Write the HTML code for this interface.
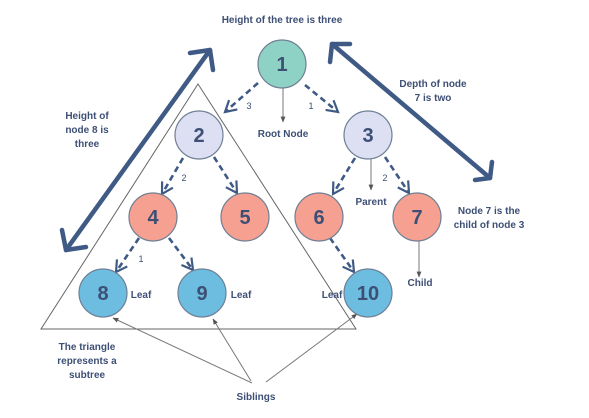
<!DOCTYPE html>
<html><head><meta charset="utf-8"><style>
html,body{margin:0;padding:0;background:#fff;}
svg{display:block;}
text{font-family:"Liberation Sans",sans-serif;fill:#3d4f75;font-weight:bold;}
</style></head><body>
<svg width="589" height="418" viewBox="0 0 589 418" xmlns="http://www.w3.org/2000/svg">
<defs>
<marker id="chev" viewBox="0 0 10 10" refX="8" refY="5" markerWidth="6" markerHeight="6" orient="auto" markerUnits="strokeWidth">
<path d="M1,1 L8,5 L1,9" fill="none" stroke="#3f5a85" stroke-width="1.4"/></marker>
<marker id="tri" viewBox="0 0 10 10" refX="9" refY="5" markerWidth="6" markerHeight="6" orient="auto">
<path d="M0,1 L10,5 L0,9 z" fill="#555"/></marker>
</defs>
<polygon points="198,84 41,329 356,329" fill="none" stroke="#666" stroke-width="1"/>
<g stroke="#3f5a85" stroke-width="4.5" fill="none" stroke-linecap="round" stroke-linejoin="round">
<line x1="210" y1="50" x2="66" y2="250"/>
<polyline points="190,53 210,50 213,70"/>
<polyline points="62,230 66,250 86,247"/>
<line x1="332" y1="44" x2="490" y2="178"/>
<polyline points="330,62 332,44 350,44"/>
<polyline points="475,180 490,178 492,162"/>
</g>
<g stroke="#3f5a85" stroke-width="2.6" stroke-dasharray="6,4" fill="none" marker-end="url(#chev)">
<line x1="258" y1="83" x2="225" y2="112"/>
<line x1="305" y1="85" x2="338" y2="112"/>
<line x1="183" y1="158" x2="162" y2="194"/>
<line x1="214" y1="157" x2="237" y2="193"/>
<line x1="355" y1="158" x2="333" y2="194"/>
<line x1="385" y1="157" x2="409" y2="193"/>
<line x1="139" y1="238" x2="116" y2="272"/>
<line x1="169" y1="238" x2="193" y2="270"/>
<line x1="330" y1="238" x2="354" y2="272"/>
</g>
<g stroke="#777" stroke-width="1" marker-end="url(#tri)">
<line x1="283" y1="88" x2="283" y2="122"/>
<line x1="371" y1="159" x2="371" y2="190"/>
<line x1="419" y1="240" x2="419" y2="277"/>
<line x1="252" y1="383" x2="113" y2="318"/>
<line x1="251" y1="381" x2="213" y2="319"/>
<line x1="266" y1="382" x2="357" y2="314"/>
</g>
<g stroke="#6f7f95" stroke-width="1.2">
<circle cx="282" cy="64" r="24" fill="#8dd2c4"/>
<circle cx="199" cy="135" r="24" fill="#dde0f3"/>
<circle cx="368" cy="135" r="24" fill="#dde0f3"/>
<circle cx="153" cy="217" r="24" fill="#f6a092"/>
<circle cx="245" cy="217" r="24" fill="#f6a092"/>
<circle cx="319" cy="217" r="24" fill="#f6a092"/>
<circle cx="417" cy="217" r="24" fill="#f6a092"/>
<circle cx="103" cy="293" r="24" fill="#6cbde0"/>
<circle cx="202" cy="293" r="24" fill="#6cbde0"/>
<circle cx="368" cy="293" r="24" fill="#6cbde0"/>
</g>
<g font-size="20" text-anchor="middle">
<text x="282" y="71">1</text><text x="199" y="142">2</text><text x="368" y="142">3</text>
<text x="153" y="224">4</text><text x="245" y="224">5</text><text x="319" y="224">6</text>
<text x="417" y="224">7</text><text x="103" y="300">8</text><text x="202" y="300">9</text>
<text x="368" y="300">10</text>
</g>
<g font-size="10" text-anchor="middle">
<text x="282" y="23">Height of the tree is three</text>
<text x="87" y="119">Height of</text><text x="87" y="133">node 8 is</text><text x="87" y="147">three</text>
<text x="433" y="87">Depth of node</text><text x="433" y="101">7 is two</text>
<text x="283" y="137">Root Node</text>
<text x="371" y="205">Parent</text>
<text x="489" y="214">Node 7 is the</text><text x="489" y="228">child of node 3</text>
<text x="420" y="286">Child</text>
<text x="141" y="298">Leaf</text><text x="241" y="298">Leaf</text><text x="332" y="298">Leaf</text>
<text x="87" y="350">The triangle</text><text x="87" y="364">represents a</text><text x="87" y="378">subtree</text>
<text x="256" y="400">Siblings</text>
</g>
<g font-size="9" text-anchor="middle">
<text x="249" y="109" style="font-weight:normal">3</text>
<text x="311" y="109" style="font-weight:normal">1</text>
<text x="184" y="181" style="font-weight:normal">2</text>
<text x="385" y="181" style="font-weight:normal">2</text>
<text x="141" y="262" style="font-weight:normal">1</text>
</g>
</svg>
</body></html>
